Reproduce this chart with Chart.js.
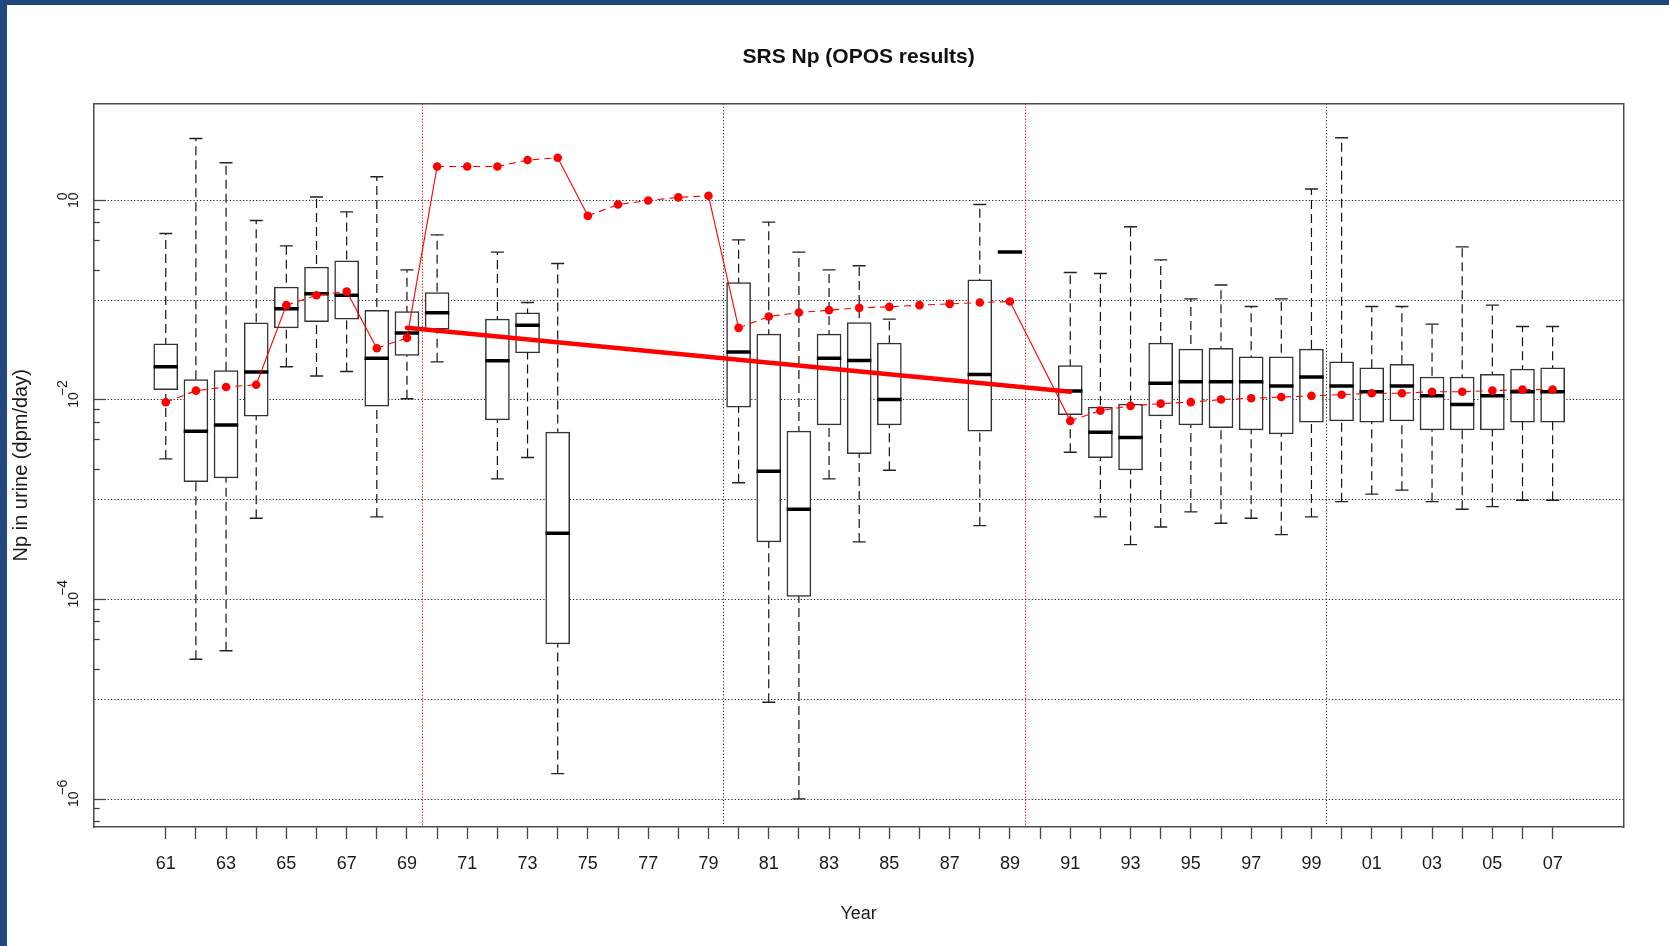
<!DOCTYPE html>
<html>
<head>
<meta charset="utf-8">
<script src="https://cdn.jsdelivr.net/npm/chart.js@4"></script>
<style>
  html, body { margin: 0; padding: 0; background: #fff; overflow: hidden; }
  #wrap { position: absolute; left: 0; top: 0; width: 1669px; height: 946px; background: #fff; }
  #c { position: absolute; left: 0; top: 0; }
  .edge { position: absolute; background: #1f497d; }
</style>
</head>
<body>
<div id="wrap">
  <canvas id="c" width="1669" height="946"></canvas>
  <div class="edge" style="left:0;top:0;width:7px;height:946px"></div>
  <div class="edge" style="left:0;top:0;width:1669px;height:5px"></div>
</div>
<script>
// ---------------- data ----------------
const years = [1961,1962,1963,1964,1965,1966,1967,1968,1969,1970,1971,1972,1973,1974,1975,1976,1977,1978,1979,1980,
               1981,1982,1983,1984,1985,1986,1987,1988,1989,1990,1991,1992,1993,1994,1995,1996,1997,1998,1999,2000,
               2001,2002,2003,2004,2005,2006,2007];

const whiskerLow = [0.00257,2.53e-5,3.08e-5,6.54e-4,0.0215,0.0174,0.0193,6.74e-4,0.0103,0.0241,null,0.00162,0.00265,1.81e-6,
                    null,null,null,null,null,0.00148,9.37e-6,1.01e-6,0.00162,3.79e-4,0.00198,null,null,5.51e-4,0.303,null,
                    0.00300,6.74e-4,3.56e-4,5.35e-4,7.57e-4,5.83e-4,6.54e-4,4.48e-4,6.74e-4,9.59e-4,0.00114,0.00125,9.59e-4,
                    8.05e-4,8.55e-4,9.91e-4,9.91e-4];
const boxQ1 = [0.0127,0.00152,0.00166,0.00688,0.0528,0.0610,0.0645,0.00867,0.0279,0.0512,null,0.00632,0.0296,3.60e-5,
               null,null,null,null,null,0.00847,3.79e-4,1.08e-4,0.00563,0.00290,0.00563,null,null,0.00487,0.303,null,
               0.00714,0.00265,0.00199,0.00693,0.00563,0.00529,0.00502,0.00457,0.00599,0.00618,0.00599,0.00618,0.00502,
               0.00502,0.00502,0.00599,0.00599];
const boxMedian = [0.0215,0.00487,0.00563,0.0191,0.0818,0.116,0.112,0.0262,0.0470,0.0746,null,0.0247,0.0562,4.63e-4,
                   null,null,null,null,null,0.0303,0.00193,8.05e-4,0.0262,0.0248,0.0101,null,null,0.0180,0.303,null,
                   0.0123,0.00476,0.00420,0.0147,0.0152,0.0152,0.0152,0.0138,0.0170,0.0138,0.0121,0.0138,0.0110,
                   0.00899,0.0110,0.0121,0.0121];
const boxQ3 = [0.0365,0.0160,0.0197,0.0592,0.135,0.214,0.248,0.0790,0.0769,0.119,null,0.0645,0.0746,0.00476,
               null,null,null,null,null,0.150,0.0456,0.00487,0.0456,0.0597,0.0371,null,null,0.160,0.303,null,
               0.0221,0.00847,0.00908,0.0371,0.0323,0.0330,0.0270,0.0270,0.0323,0.0241,0.0210,0.0228,0.0170,
               0.0170,0.0181,0.0204,0.0210];
const whiskerHigh = [0.465,4.16,2.38,0.627,0.350,1.08,0.767,1.72,0.201,0.451,null,0.303,0.0946,0.233,
                     null,null,null,null,null,0.402,0.605,0.303,0.201,0.221,0.0645,null,null,0.908,0.303,null,
                     0.189,0.185,0.543,0.253,0.103,0.142,0.0863,0.103,1.30,4.23,0.0863,0.0863,0.0575,
                     0.342,0.0891,0.0544,0.0544];
// red points (yearly estimate)
const yearMean = [0.0095,0.0124,0.0135,0.0142,0.0891,0.112,0.122,0.0330,0.0419,2.18,2.18,2.18,2.53,2.67,
                  0.699,0.908,0.995,1.07,1.11,0.0528,0.0685,0.0751,0.0794,0.0837,0.0857,0.0891,0.0918,0.0946,0.0968,null,
                  0.00618,0.00783,0.00873,0.00920,0.00951,0.0101,0.0104,0.0107,0.0110,0.0113,0.0117,0.0117,0.0121,
                  0.0121,0.0124,0.0127,0.0127];
// first year of each new period (segment into it drawn solid)
const periodStarts = [1965,1968,1970,1975,1980,1991];
// thick red trend line
const trendYears = [1969, 1991];
const trendValues = [0.0528, 0.0121];
// vertical reference lines
const redLines = [1969.5, 1989.5];
const blackLines = [1979.5, 1999.5];

// tick labels
const xLabelYears = [1961,1963,1965,1967,1969,1971,1973,1975,1977,1979,1981,1983,1985,1987,1989,1991,1993,1995,1997,1999,2001,2003,2005,2007];
const xLabels = ['61','63','65','67','69','71','73','75','77','79','81','83','85','87','89','91','93','95','97','99','01','03','05','07'];
const yLabelValues = [1, 0.01, 0.0001, 0.000001];
// two-line labels: exponent line (shifted with figure spaces), then the base
const yLabels = [
  ['\u2007' + '0', '10'],
  ['\u2007\u2007\u2007' + '\u22122', '10'],
  ['\u2007\u2007\u2007' + '\u22124', '10'],
  ['\u2007\u2007\u2007' + '\u22126', '10']
];
const yGridValues = [1, 0.1, 0.01, 0.001, 0.0001, 0.00001, 0.000001];
const yMinorValues = [0.8,0.6,0.4,0.2, 0.008,0.006,0.004,0.002, 0.00008,0.00006,0.00004,0.00002, 0.0000008,0.0000006];

// ---------------- fonts ----------------
function hasFont(name) {
  const c = document.createElement('canvas').getContext('2d');
  const t = 'mmmmwwwwlliiYear 0123456789';
  let diff = false;
  ['monospace', 'serif'].forEach(fb => {
    c.font = '40px ' + fb; const a = c.measureText(t).width;
    c.font = '40px "' + name + '", ' + fb; const b = c.measureText(t).width;
    if (Math.abs(a - b) > 0.5) diff = true;
  });
  return diff;
}
const NARROW = hasFont('Liberation Sans Narrow');
const regFam = '"Liberation Sans", Arial, sans-serif';
const narrowFam = NARROW ? '"Liberation Sans Narrow", "Liberation Sans", Arial, sans-serif' : regFam;
const xTickFont = { family: narrowFam, size: NARROW ? 21 : 18, lineHeight: 1.2 };
const yTickFont = { family: regFam, size: 14, lineHeight: 0.78 };
const yearFont = { family: narrowFam, size: NARROW ? 21 : 18, lineHeight: 1.2 };

// y tick label horizontal placement: centre of the "10" line at x = 74
const PLOT_LEFT = 93.7, Y_TICK_LEN = 12;
const mctx = document.createElement('canvas').getContext('2d');
mctx.font = yTickFont.size + 'px ' + yTickFont.family;
let widest = 0;
yLabels.forEach(l => l.forEach(s => { widest = Math.max(widest, mctx.measureText(s).width); }));
const yLineH = yTickFont.size * yTickFont.lineHeight;
const yTickPadding = PLOT_LEFT + Y_TICK_LEN - (74 - yLineH / 2) - widest / 2;

// ---------------- build datasets from arrays ----------------
const boxData = [], medData = [], capData = [], whiskerData = [];
years.forEach((yr, i) => {
  if (boxQ1[i] == null) return;
  boxData.push({ x: yr, y: [boxQ1[i], boxQ3[i]] });
  medData.push({ x: yr, y: boxMedian[i] });
  capData.push({ x: yr, y: whiskerLow[i] }, { x: yr, y: whiskerHigh[i] });
  whiskerData.push({ x: yr, y: whiskerLow[i] }, { x: yr, y: whiskerHigh[i] }, { x: yr, y: null });
});
const meanData = years.map((yr, i) => ({ x: yr, y: yearMean[i] }));
const trendData = trendYears.map((yr, i) => ({ x: yr, y: trendValues[i] }));

const X_MIN = 1958.61, X_MAX = 2009.35;
const Y_MIN = 5.28e-7, Y_MAX = 9.33;
const FRAME = '#4a4a4a';

const xTicks = years.concat(redLines, blackLines).sort((a, b) => a - b);
const yTicks = yGridValues.concat(yMinorValues).sort((a, b) => b - a);

const chart = new Chart(document.getElementById('c'), {
  type: 'bar',
  data: {
    datasets: [
      { type: 'line', label: 'trend', data: trendData, xAxisID: 'x', yAxisID: 'y',
        borderColor: '#ff0000', borderWidth: 4.5, borderCapStyle: 'round', pointRadius: 0, order: 1 },
      { type: 'line', label: 'yearly', data: meanData, xAxisID: 'x', yAxisID: 'y',
        borderColor: '#ff0000', borderWidth: 1.1, borderDash: [7, 5], spanGaps: true, tension: 0,
        pointRadius: 4.3, pointBackgroundColor: '#ff0000', pointBorderWidth: 0,
        segment: { borderDash: ctx => periodStarts.includes(meanData[ctx.p1DataIndex].x) ? [] : undefined },
        order: 0 },
      { type: 'scatter', label: 'median', data: medData, xAxisID: 'x', yAxisID: 'y',
        pointStyle: 'line', pointRadius: 12.2, pointBorderWidth: 3.5, pointBorderColor: '#000', order: 2 },
      { type: 'scatter', label: 'caps', data: capData, xAxisID: 'x', yAxisID: 'y',
        pointStyle: 'line', pointRadius: 6.5, pointBorderWidth: 1.4, pointBorderColor: '#222', order: 3 },
      { type: 'bar', label: 'box', data: boxData, xAxisID: 'x', yAxisID: 'y',
        backgroundColor: '#ffffff', borderColor: '#333', borderWidth: 1.5, borderSkipped: false,
        barThickness: 24, order: 4 },
      { type: 'line', label: 'whisker', data: whiskerData, xAxisID: 'x', yAxisID: 'y',
        borderColor: '#111', borderWidth: 1.2, borderDash: [9, 5], pointRadius: 0, spanGaps: false, order: 5 }
    ]
  },
  options: {
    responsive: false,
    animation: false,
    devicePixelRatio: 1,
    events: [],
    layout: { padding: 0 },
    plugins: {
      legend: { display: false },
      tooltip: { enabled: false },
      title: {
        display: true, text: 'SRS Np (OPOS results)', fullSize: false, color: '#111',
        font: { family: regFam, size: 21, weight: 'bold', lineHeight: 1.2 },
        padding: { top: 45, bottom: 33.3 }
      }
    },
    scales: {
      x: {
        type: 'linear', position: 'bottom', min: X_MIN, max: X_MAX, bounds: 'data', offset: false,
        afterBuildTicks: s => { s.ticks = xTicks.map(v => ({ value: v })); },
        afterFit: s => { s.height = 119; },
        ticks: {
          autoSkip: false, minRotation: 0, maxRotation: 0, padding: NARROW ? 12.6 : 14.2, color: '#1a1a1a', font: xTickFont,
          callback: v => { const k = xLabelYears.indexOf(v); return k >= 0 ? xLabels[k] : ''; }
        },
        grid: {
          offset: false, drawOnChartArea: true, drawTicks: true, tickLength: 12, tickWidth: 1.3, lineWidth: 1,
          color: c => redLines.includes(c.tick && c.tick.value) ? '#ff3030' : (blackLines.includes(c.tick && c.tick.value) ? '#222' : 'rgba(0,0,0,0)'),
          tickColor: c => (c.tick && Number.isInteger(c.tick.value)) ? '#444' : 'rgba(0,0,0,0)'
        },
        border: {
          display: true, color: FRAME, width: 1.5,
          dash: c => (c.tick && redLines.includes(c.tick.value)) ? [1.5, 1.5] : ((c.tick && blackLines.includes(c.tick.value)) ? [1.2, 2.1] : [])
        },
        title: { display: true, text: 'Year', color: '#1a1a1a', font: yearFont, padding: { top: 0, bottom: NARROW ? 20.4 : 21.5 } }
      },
      y: {
        type: 'logarithmic', position: 'left', min: Y_MIN, max: Y_MAX, bounds: 'data',
        afterBuildTicks: s => { s.ticks = yTicks.map(v => ({ value: v })); },
        afterFit: s => { s.width = PLOT_LEFT; },
        ticks: {
          autoSkip: false, minRotation: 90, maxRotation: 90, crossAlign: 'center', padding: yTickPadding, color: '#1a1a1a', font: yTickFont,
          callback: v => { const k = yLabelValues.indexOf(v); return k >= 0 ? yLabels[k] : ''; }
        },
        grid: {
          drawOnChartArea: true, drawTicks: true, tickLength: -Y_TICK_LEN, tickWidth: 1.3, lineWidth: 1,
          color: c => (c.tick && yGridValues.includes(c.tick.value)) ? '#222' : 'rgba(0,0,0,0)',
          tickColor: c => (c.tick && (yLabelValues.includes(c.tick.value) || yMinorValues.includes(c.tick.value))) ? '#444' : 'rgba(0,0,0,0)',
          tickBorderDash: c => (c.tick && yMinorValues.includes(c.tick.value)) ? [7, 6] : [],
          tickBorderDashOffset: c => (c.tick && yMinorValues.includes(c.tick.value)) ? 7 : 0
        },
        border: {
          display: true, color: FRAME, width: 1.5,
          dash: c => (c.tick && yGridValues.includes(c.tick.value)) ? [1.2, 2.1] : []
        },
        title: { display: true, text: 'Np in urine (dpm/day)', color: '#1a1a1a', font: { family: regFam, size: 20, lineHeight: 1.2 }, padding: { top: 9.5, bottom: 0 } }
      },
      xTop: {
        type: 'linear', position: 'top', min: X_MIN, max: X_MAX, bounds: 'data', offset: false, display: true,
        afterFit: s => { s.height = 0; },
        ticks: { display: false },
        grid: { drawOnChartArea: false, drawTicks: false, color: 'rgba(0,0,0,0)', offset: false },
        border: { display: true, color: FRAME, width: 1.5 }
      },
      yRight: {
        type: 'logarithmic', position: 'right', min: Y_MIN, max: Y_MAX, bounds: 'data', display: true,
        afterFit: s => { s.width = 1669 - 1623.5; },
        ticks: { display: false },
        grid: { drawOnChartArea: false, drawTicks: false, color: 'rgba(0,0,0,0)' },
        border: { display: true, color: FRAME, width: 1.5 }
      }
    }
  }
});
</script>
</body>
</html>
